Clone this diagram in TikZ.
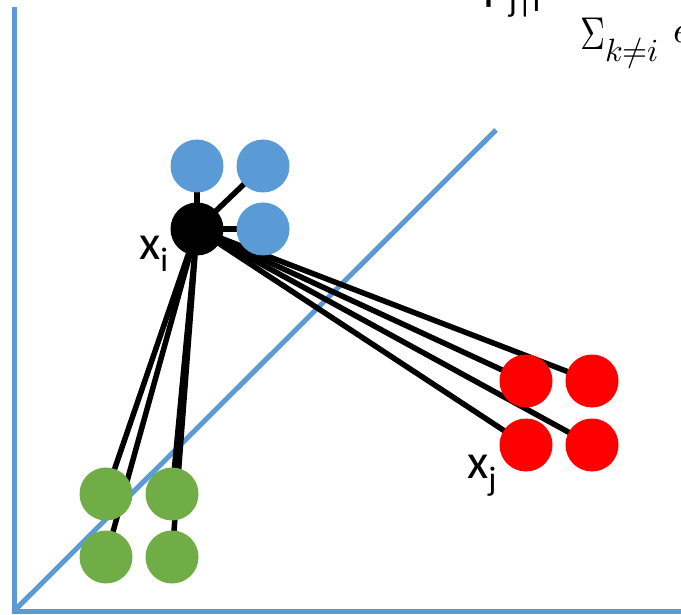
\documentclass[tikz,border=0pt]{standalone}
\usepackage{fontspec}
\usepackage{unicode-math}
\setmainfont{Carlito}
\setmathfont{Latin Modern Math}
\usepackage{graphicx}
\definecolor{axisblue}{RGB}{91,155,213}
\definecolor{nbrgreen}{RGB}{112,173,71}
\pgfdeclarelayer{axes}
\pgfdeclarelayer{links}
\pgfsetlayers{axes,links,main}

\begin{document}
\begin{tikzpicture}[x=1pt, y=-1pt,
  dot/.style={circle, inner sep=0pt, minimum size=53pt},
  link/.style={line width=5.5pt},
  lbl/.style={inner sep=0pt, anchor=base west, font=\fontsize{49}{55}\selectfont}]
\useasboundingbox (0,0) rectangle (681,615);

% axes and diagonal
\begin{pgfonlayer}{axes}
\draw[axisblue, line width=5pt] (14.5,7) -- (14.5,611.5) -- (681,611.5);
\draw[axisblue, line width=5pt] (15,610) -- (496,130);
\end{pgfonlayer}

% point x_i and the others
\node[dot, fill=black] (xi) at (197,229) {};
\foreach \n/\x/\y in {b1/197/166, b2/263/166, b3/263/229}
  \node[dot, fill=axisblue] (\n) at (\x,\y) {};
\foreach \n/\x/\y in {r1/526/381, r2/592/381, r3/526/445, r4/592/445}
  \node[dot, fill=red] (\n) at (\x,\y) {};
\foreach \n/\x/\y in {g1/106/494, g2/172/494, g3/106/557, g4/172/557}
  \node[dot, fill=nbrgreen] (\n) at (\x,\y) {};

\begin{pgfonlayer}{links}
\foreach \n in {b1,b2,b3,r1,r2,r3,r4,g1,g2,g3,g4}
  \draw[link] (xi.center) -- (\n.center);
\end{pgfonlayer}

% labels
\node[lbl] (xilbl) at (139,260) {x\raisebox{-12pt}{\fontsize{34}{40}\selectfont i}};
\node[lbl] (xjlbl) at (467,478) {x\raisebox{-12pt}{\fontsize{34}{40}\selectfont j}};
\node[lbl] (pji) at (483,0) {p\raisebox{-12pt}{\fontsize{34}{40}\selectfont j|i}};
\node[inner sep=0pt, anchor=base west, font=\fontsize{46}{52}\selectfont] (denom) at (580,50)
  {$\scalebox{0.75}[1]{$\Sigma$}_{k\neq i}$};
\node[inner sep=0pt, anchor=base west, font=\fontsize{38}{44}\selectfont] (expe) at (673,43) {$e$};
\end{tikzpicture}
\end{document}
